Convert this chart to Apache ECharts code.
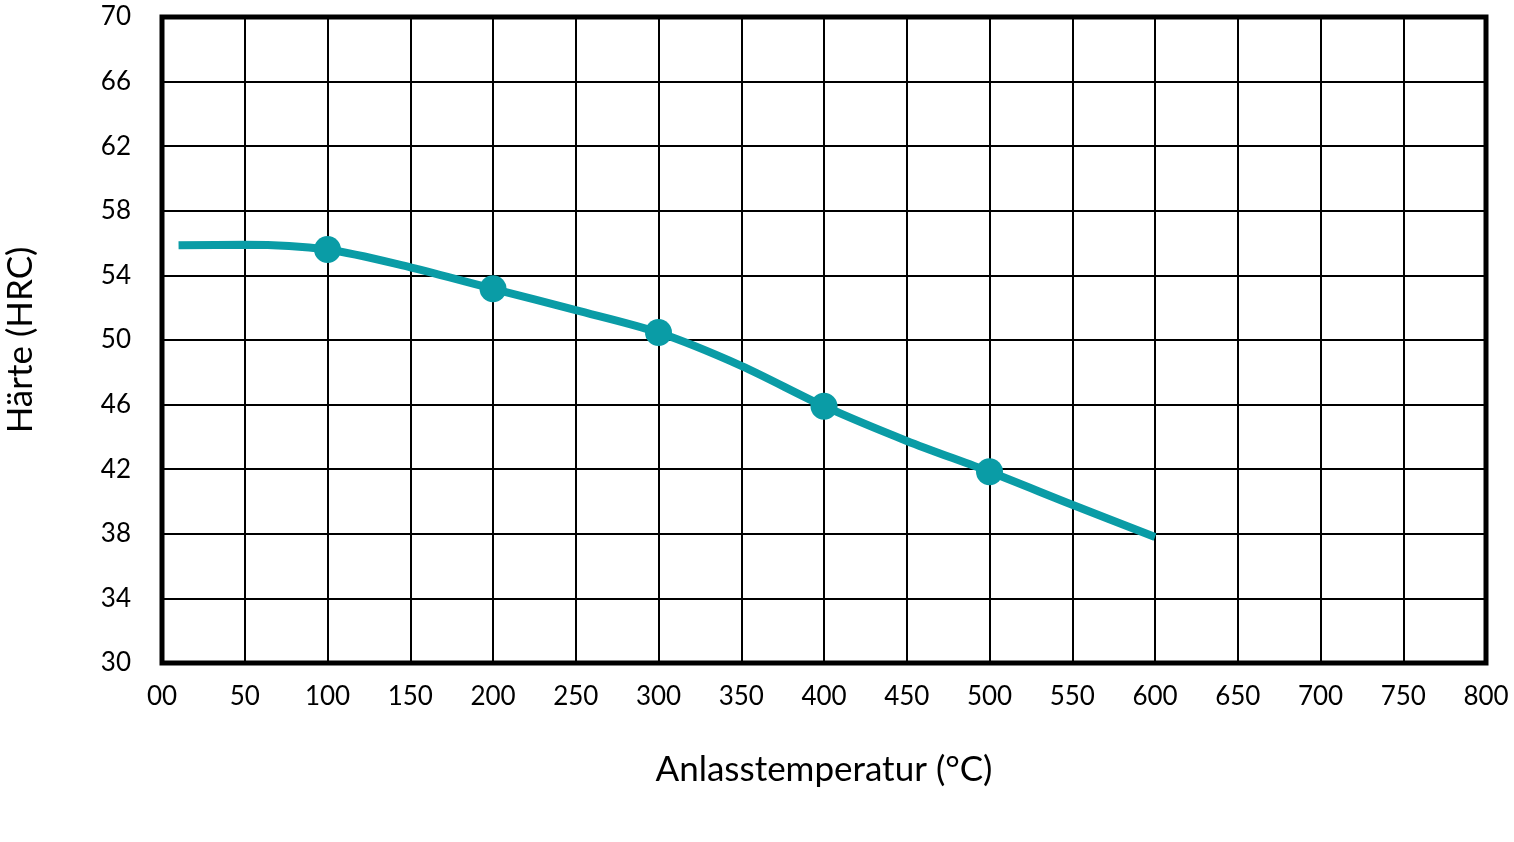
<!DOCTYPE html>
<html>
<head>
<meta charset="utf-8">
<script src="https://cdn.jsdelivr.net/npm/echarts@6/dist/echarts.min.js"></script>
<style>
  html, body { margin: 0; padding: 0; background: #fff; }
  #chart { width: 1514px; height: 842px; }
</style>
</head>
<body>
<div id="chart"></div>
<script>
// curve (temperature in °C, hardness in HRC)
var temps = [10, 50, 100, 150, 200, 250, 300, 350, 400, 450, 500, 550, 600];
var hardness = [55.86, 55.9, 55.6, 54.5, 53.17, 51.85, 50.46, 48.4, 45.9, 43.75, 41.84, 39.8, 37.8];
// measured points with markers
var markTemps = [100, 200, 300, 400, 500];
var markHardness = [55.6, 53.17, 50.46, 45.9, 41.84];

var lineColor = '#0a9ca6';
var font = 'Lato';

var lineData = [];
for (var i = 0; i < temps.length; i++) {
    lineData.push([temps[i], hardness[i]]);
}
var markData = [];
for (var j = 0; j < markTemps.length; j++) {
    markData.push([markTemps[j], markHardness[j]]);
}

var myChart = echarts.init(document.getElementById('chart'));
var option = {
    animation: false,
    grid: {
        left: 162,
        right: 28,
        top: 17,
        bottom: 179,
        outerBoundsMode: 'none',
        containLabel: false,
        show: true,
        borderColor: '#000',
        borderWidth: 5,
        backgroundColor: 'transparent'
    },
    xAxis: {
        type: 'value',
        min: 0,
        max: 800,
        interval: 50,
        name: 'Anlasstemperatur (°C)',
        nameLocation: 'middle',
        nameGap: 89,
        nameTextStyle: { fontFamily: font, fontSize: 35, color: '#000' },
        axisLine: { show: false },
        axisTick: { show: false },
        axisLabel: {
            margin: 21,
            fontFamily: font,
            fontSize: 26,
            color: '#000',
            formatter: function (v) { return v === 0 ? '00' : String(v); }
        },
        splitLine: { show: true, lineStyle: { color: '#000', width: 2 } }
    },
    yAxis: {
        type: 'value',
        min: 30,
        max: 70,
        interval: 4,
        name: 'Härte (HRC)',
        nameLocation: 'middle',
        nameGap: 124,
        nameTextStyle: { fontFamily: font, fontSize: 35, color: '#000' },
        axisLine: { show: false },
        axisTick: { show: false },
        axisLabel: {
            margin: 31,
            fontFamily: font,
            fontSize: 26,
            color: '#000'
        },
        splitLine: { show: true, lineStyle: { color: '#000', width: 2 } }
    },
    series: [
        {
            type: 'line',
            data: lineData,
            smooth: 0.3,
            showSymbol: false,
            lineStyle: { color: lineColor, width: 8 },
            z: 3
        },
        {
            type: 'scatter',
            data: markData,
            symbol: 'circle',
            symbolSize: 27,
            itemStyle: { color: lineColor, opacity: 1 },
            z: 4
        }
    ]
};
myChart.setOption(option, true);
</script>
</body>
</html>
